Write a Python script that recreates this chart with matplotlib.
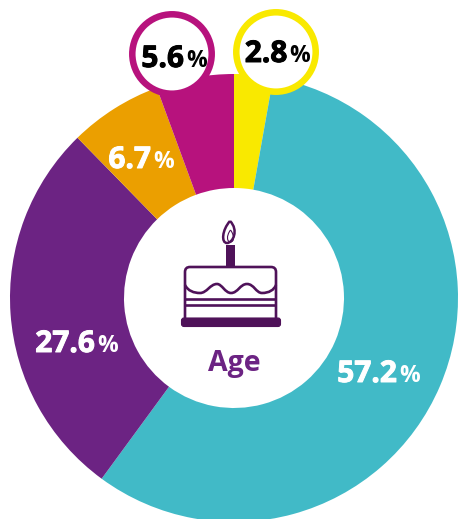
import numpy as np
import matplotlib
matplotlib.use("Agg")
import matplotlib.pyplot as plt
import matplotlib.patheffects as pe
from matplotlib.patches import Circle, FancyBboxPatch, Rectangle, PathPatch
from matplotlib.path import Path

categories = ["Group A", "Group B", "Group C", "Group D", "Group E"]
values = [2.8, 57.2, 27.6, 6.7, 5.6]
colors = ["#F9E900", "#41BAC7", "#6C2383", "#EB9F00", "#B7127D"]
label_text = ["2.8", "57.2", "27.6", "6.7", "5.6"]
label_x = [287.5, 397, 95, 151, 184]
label_y = [62, 382, 352, 168, 67]
label_color = ["black", "white", "white", "white", "black"]

W, H = 459, 519
plt.rcParams['font.family'] = ['Open Sans', 'DejaVu Sans']
fig = plt.figure(figsize=(W/100, H/100), dpi=100)

ax = fig.add_axes([0, 0, 1, 1])
ax.pie(values, colors=colors, startangle=90, counterclock=False,
       center=(234, H-298), radius=224, frame=True,
       wedgeprops=dict(width=114, linewidth=0))
ax.set_xlim(0, W); ax.set_ylim(0, H); ax.axis('off')

ov = fig.add_axes([0, 0, 1, 1], facecolor='none')
ov.set_xlim(0, W); ov.set_ylim(H, 0); ov.axis('off')

# callout rings
ov.add_patch(Circle((172, 54), 39.7, fc='white', ec='#B7127D', lw=4.7))
ov.add_patch(Circle((276, 52), 39.7, fc='white', ec='#F9E900', lw=4.7))

# labels
for t, x, y, c in zip(label_text, label_x, label_y, label_color):
    ov.text(x, y, t, ha='right', va='baseline', color=c, fontsize=21.5, fontweight='bold',
            path_effects=[pe.withStroke(linewidth=0.7, foreground=c)])
    ov.text(x+2, y, '%', ha='left', va='baseline', color=c, fontsize=16.5, fontweight='bold')

# centre title
ov.text(234, 371, 'Age', ha='center', va='baseline', color='#6C2383', fontsize=20.5, fontweight='bold')

# cake icon
ic = '#4F1259'
lw = 1.9
ov.add_patch(FancyBboxPatch((181.5, 318), 99, 8.5, boxstyle='round,pad=0,rounding_size=2.5', fc=ic, ec=ic, lw=0.8))
ov.add_patch(PathPatch(Path([(185, 318), (185, 272), (185, 267), (190, 267), (271, 267), (276, 267), (276, 272), (276, 318)],
                            [1, 2, 3, 3, 2, 3, 3, 2]), fc='none', ec=ic, lw=lw))
ov.add_patch(Rectangle((226, 245), 9, 21, fc=ic, ec='none'))
ov.plot([185, 276], [298.5, 298.5], color=ic, lw=lw, solid_capstyle='butt')
ov.plot([185, 276], [304.5, 304.5], color=ic, lw=lw, solid_capstyle='butt')
wave = Path([(185, 285),
             (188, 291), (194, 293), (200, 293),
             (207, 293), (210, 284), (217, 284),
             (222, 284), (225, 293), (231, 293),
             (238, 293), (240, 284), (247, 284),
             (254, 284), (256, 293), (262, 293),
             (269, 293), (274, 290), (276, 285)],
            [1] + [4]*18)
ov.add_patch(PathPatch(wave, fc='none', ec=ic, lw=lw))
ov.add_patch(PathPatch(Path([(230, 221), (222, 230), (221, 243), (227, 243), (233, 243), (239, 230), (230, 221)],
                            [1, 4, 4, 4, 4, 4, 4]), fc='none', ec=ic, lw=1.8))
ov.add_patch(PathPatch(Path([(230.5, 230), (226, 236), (227, 242), (230.5, 242), (234, 242), (235, 236), (230.5, 230)],
                            [1, 4, 4, 4, 4, 4, 4]), fc='none', ec=ic, lw=0.8))

fig.savefig('out.png', dpi=100, facecolor='white')
